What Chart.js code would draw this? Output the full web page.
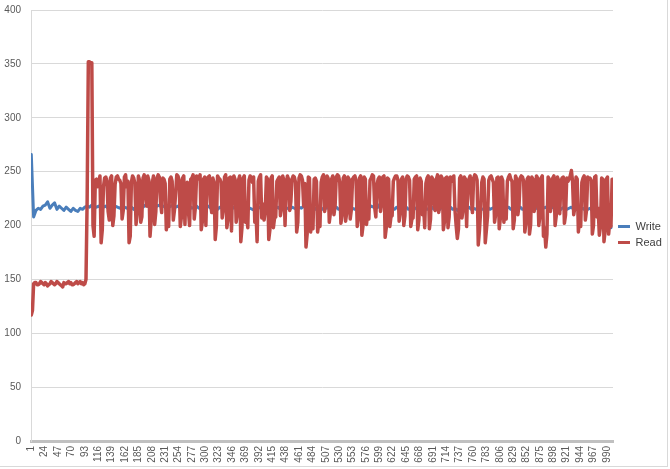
<!DOCTYPE html>
<html><head><meta charset="utf-8">
<script src="https://cdn.jsdelivr.net/npm/chart.js@4.4.1/dist/chart.umd.min.js"></script>
<style>
html,body{margin:0;padding:0;background:#fff;}
#wrap{position:relative;width:670px;height:469px;}
#frame{position:absolute;left:0;top:0;width:667px;height:466px;border-right:1px solid #d9d9d9;border-bottom:1px solid #d9d9d9;pointer-events:none;}
</style></head><body>
<div id="wrap"><canvas id="c" width="670" height="469"></canvas><div id="frame"></div></div>
<script>
// x tick labels shown on the category axis
const tickLabels = [1,24,47,70,93,116,139,162,185,208,231,254,277,300,323,346,369,392,415,438,461,484,507,530,553,576,599,622,645,668,691,714,737,760,783,806,829,852,875,898,921,944,967,990];
const seriesNames = ['Write', 'Read'];
// Write sampled every 4th category from 1, Read every 2nd category from 1
const writeStart = 1, writeStep = 4;
const readStart = 1, readStep = 2;

const writeValues = [
266,208,214,216,215,218,219,222,216,219,
221,215,218,216,214,217,215,213,216,214,
213,216,215,217,218,217,219,218,217,218,
216,217,218,216,217,215,218,217,216,218,
217,216,218,217,215,217,218,216,217,219,
218,217,219,220,218,219,217,218,219,217,
218,219,217,218,216,218,219,217,218,216,
217,218,216,217,215,217,218,216,217,216,
215,217,216,218,217,216,215,217,216,217,
216,214,215,217,216,215,214,216,217,215,
216,217,215,216,214,216,217,215,216,217,
216,215,217,216,215,217,216,218,216,215,
217,216,215,217,216,215,217,216,218,217,
216,217,215,216,217,215,216,217,216,215,
217,216,215,216,217,216,218,217,216,217,
221,219,216,215,217,216,215,217,216,215,
216,217,215,216,214,216,217,215,216,217,
215,216,217,215,216,214,216,217,215,216,
217,215,216,214,216,217,215,216,217,215,
216,215,217,216,215,216,217,215,216,217,
215,216,214,215,216,217,215,216,214,216,
217,215,216,217,216,215,217,216,215,216,
216,217,215,216,217,215,216,214,216,217,
215,216,217,215,216,217,215,216,214,215,
216,214,215,213,215,212,214,211,213,198
];

const readValues = [
117,121,146,147,147,145,145,146,148,147,146,145,147,146,144,145,146,148,147,146,
145,146,148,147,146,145,144,143,147,146,146,147,148,146,147,145,145,146,147,148,
146,147,148,146,147,145,146,150,225,352,352,351,351,200,190,242,243,236,240,246,
184,196,236,244,245,241,213,205,244,246,200,209,238,245,246,243,242,239,206,214,
245,247,236,241,184,190,240,246,244,239,201,212,246,242,203,208,244,247,229,218,
246,242,190,205,240,246,201,213,244,247,245,222,212,244,243,239,196,212,199,243,
245,241,205,214,230,247,246,242,199,208,244,246,201,238,240,213,200,243,244,247,
206,217,246,243,244,247,196,204,243,245,200,241,245,246,221,212,244,240,187,199,
246,244,243,240,207,215,245,247,198,206,244,245,195,239,246,243,203,211,242,246,
185,198,244,246,203,210,198,242,246,244,240,245,203,213,185,241,245,247,207,220,
205,214,245,243,187,196,244,246,198,207,208,241,243,245,209,216,246,242,200,238,
246,243,214,222,243,246,245,240,194,203,244,247,246,242,218,239,180,192,245,244,
194,205,197,243,244,241,194,203,199,240,245,247,213,220,246,244,203,212,243,246,
210,218,245,247,246,240,202,210,244,246,204,212,245,243,206,215,243,245,246,242,
199,207,244,246,191,200,245,243,201,212,206,242,244,247,246,217,208,238,243,245,
213,221,245,246,189,198,244,243,199,208,209,241,244,246,246,242,204,212,243,245,
200,209,243,246,245,242,199,206,207,243,245,246,196,205,244,241,210,218,198,239,
244,246,197,206,245,243,222,214,243,247,212,219,246,244,196,204,244,245,198,208,
245,241,243,246,214,200,188,197,244,246,207,215,245,243,199,238,243,246,225,212,
244,247,246,242,182,195,213,240,245,243,184,196,209,242,245,246,243,240,203,211,
244,245,197,207,245,242,203,214,206,241,245,247,243,241,197,205,246,243,210,218,
244,246,245,241,194,203,243,245,192,201,245,243,213,220,246,244,200,209,244,246,
190,198,180,192,245,243,213,221,244,246,200,209,245,242,211,241,244,245,202,210,
244,241,243,246,251,241,210,217,245,243,194,207,199,240,244,246,205,214,245,243,
244,242,192,200,245,246,208,216,191,199,244,243,185,195,243,245,192,204,199,243
];

const toPoints = (vals, start, step) => vals.map((v, i) => ({x: start + i * step, y: v}));

Chart.defaults.font.family = "'Liberation Sans', Arial, sans-serif";
Chart.defaults.color = '#595959';

const lineStyle = {pointRadius: 0, tension: 0, borderJoinStyle: 'round', borderCapStyle: 'round'};

new Chart(document.getElementById('c'), {
  type: 'line',
  data: {
    datasets: [
      Object.assign({label: seriesNames[0], data: toPoints(writeValues, writeStart, writeStep), borderColor: '#4a7ebb', backgroundColor: '#4a7ebb', borderWidth: 3, order: 1}, lineStyle),
      Object.assign({label: seriesNames[1], data: toPoints(readValues, readStart, readStep), borderColor: '#be4b48', backgroundColor: '#be4b48', borderWidth: 3.5, order: 0}, lineStyle)
    ]
  },
  options: {
    responsive: false,
    animation: false,
    layout: {padding: {left: 4, top: 4, right: 5, bottom: 4}},
    plugins: {
      tooltip: {enabled: false},
      legend: {
        position: 'right',
        maxWidth: 52,
        labels: {
          boxWidth: 12, boxHeight: 3, padding: 5, color: '#404040', font: {size: 11},
          sort: (a, b) => a.datasetIndex - b.datasetIndex,
          generateLabels: chart => Chart.defaults.plugins.legend.labels.generateLabels(chart).map(l => Object.assign(l, {lineWidth: 0, fillStyle: l.strokeStyle}))
        }
      }
    },
    scales: {
      x: {
        type: 'linear', min: 0.5, max: 1000.5,
        afterBuildTicks: axis => { axis.ticks = tickLabels.map(v => ({value: v})); },
        afterFit: axis => { axis.paddingLeft = 0; axis.paddingRight = 0; axis.height = 24; },
        ticks: {autoSkip: false, minRotation: 90, maxRotation: 90, padding: 5, font: {size: 10}, callback: v => String(v)},
        grid: {display: false, drawTicks: false},
        border: {display: true, color: '#c0c0c0', width: 3}
      },
      y: {
        min: 0, max: 400,
        afterFit: axis => { axis.paddingTop = 10; axis.paddingBottom = 0; axis.width = 27; },
        ticks: {stepSize: 50, padding: 10, font: {size: 10}},
        grid: {color: '#d9d9d9', drawTicks: false},
        border: {color: '#d9d9d9', width: 1}
      }
    }
  }
});
</script>
</body></html>
